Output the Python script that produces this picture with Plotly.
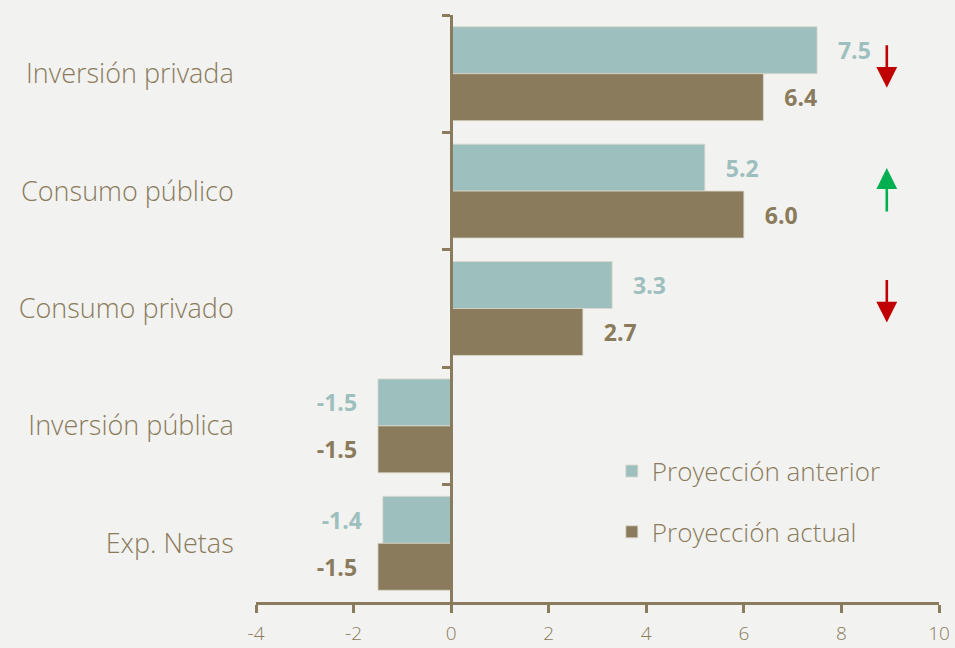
import plotly.graph_objects as go

categories = ["Inversión privada", "Consumo público", "Consumo privado", "Inversión pública", "Exp. Netas"]
anterior = [7.5, 5.2, 3.3, -1.5, -1.4]
actual = [6.4, 6.0, 2.7, -1.5, -1.5]
series_names = ["Proyección anterior", "Proyección actual"]
x_ticks = [-4, -2, 0, 2, 4, 6, 8, 10]
x_tick_labels = ["-4", "-2", "0", "2", "4", "6", "8", "10"]
# arrows: category, direction (+1 up / -1 down)
arrow_cats = ["Inversión privada", "Consumo público", "Consumo privado"]
arrow_dirs = [-1, 1, -1]
arrow_x = 8.93

C_ANT = "#9dbfbe"
C_ACT = "#8a7b5c"
C_TXT = "#8a7b5c"
BG = "#f2f2f0"
FONT = "Open Sans"
NB = "\u00a0"

def lab(v):
    s = f"{v:.1f}"
    return (NB * 3 + s) if v >= 0 else (s + NB * 3)

fig = go.Figure()
for name, vals, col in [(series_names[0], anterior, C_ANT), (series_names[1], actual, C_ACT)]:
    fig.add_trace(go.Bar(
        y=categories, x=vals, name=name, orientation="h",
        marker=dict(color=col, line=dict(color="#dcd8cc", width=0.8)),
        text=[lab(v) for v in vals], textposition="outside",
        textfont=dict(family=FONT, size=23, color=col, weight="bold"),
        cliponaxis=False, legendgroup=name,
    ))

xmin, xmax = x_ticks[0], x_ticks[-1]
annotations = []
for cat, d in zip(arrow_cats, arrow_dirs):
    if d < 0:
        annotations.append(dict(x=arrow_x, y=cat, xref="x", yref="y", text="", showarrow=True,
                                ax=0, ay=-44, yshift=-14, arrowhead=2, arrowsize=1.6, arrowwidth=2.6,
                                arrowcolor="#c00000"))
    else:
        annotations.append(dict(x=arrow_x, y=cat, xref="x", yref="y", text="", showarrow=True,
                                ax=0, ay=45, yshift=23, arrowhead=2, arrowsize=1.6, arrowwidth=2.6,
                                arrowcolor="#00b050"))

fig.update_layout(
    width=955, height=648, autosize=False,
    paper_bgcolor=BG, plot_bgcolor=BG,
    margin=dict(l=256, r=16, t=15, b=46),
    barmode="group", bargap=0.2, bargroupgap=0,
    font=dict(family=FONT, color=C_TXT),
    showlegend=True,
    legend=dict(x=0.521, y=0.263, xanchor="left", yanchor="top", bgcolor="rgba(0,0,0,0)",
                font=dict(family=FONT, size=26, color=C_TXT, weight=300),
                traceorder="grouped", tracegroupgap=24),
    xaxis=dict(range=[xmin, xmax], tickvals=x_ticks, ticktext=x_tick_labels,
               showgrid=False, zeroline=False, automargin=False,
               showline=True, linecolor=C_ACT, linewidth=3,
               ticks="outside", ticklen=8, tickwidth=2.5, tickcolor=C_ACT,
               ticklabelstandoff=4,
               tickfont=dict(family=FONT, size=19, color=C_TXT, weight=300)),
    yaxis=dict(categoryorder="array", categoryarray=categories, autorange="reversed",
               anchor="free", position=(0 - xmin) / (xmax - xmin),
               showgrid=False, zeroline=False, showline=True, linecolor=C_ACT, linewidth=3,
               ticks="outside", tickson="boundaries", ticklen=8, tickwidth=2.5, tickcolor=C_ACT,
               ticklabelstandoff=211, automargin=False,
               tickfont=dict(family=FONT, size=27, color=C_TXT, weight=300)),
    annotations=annotations,
)

fig.write_html("out.html", config={"displayModeBar": False},
               post_script="document.body.style.margin='0px';document.body.style.overflow='hidden';")
